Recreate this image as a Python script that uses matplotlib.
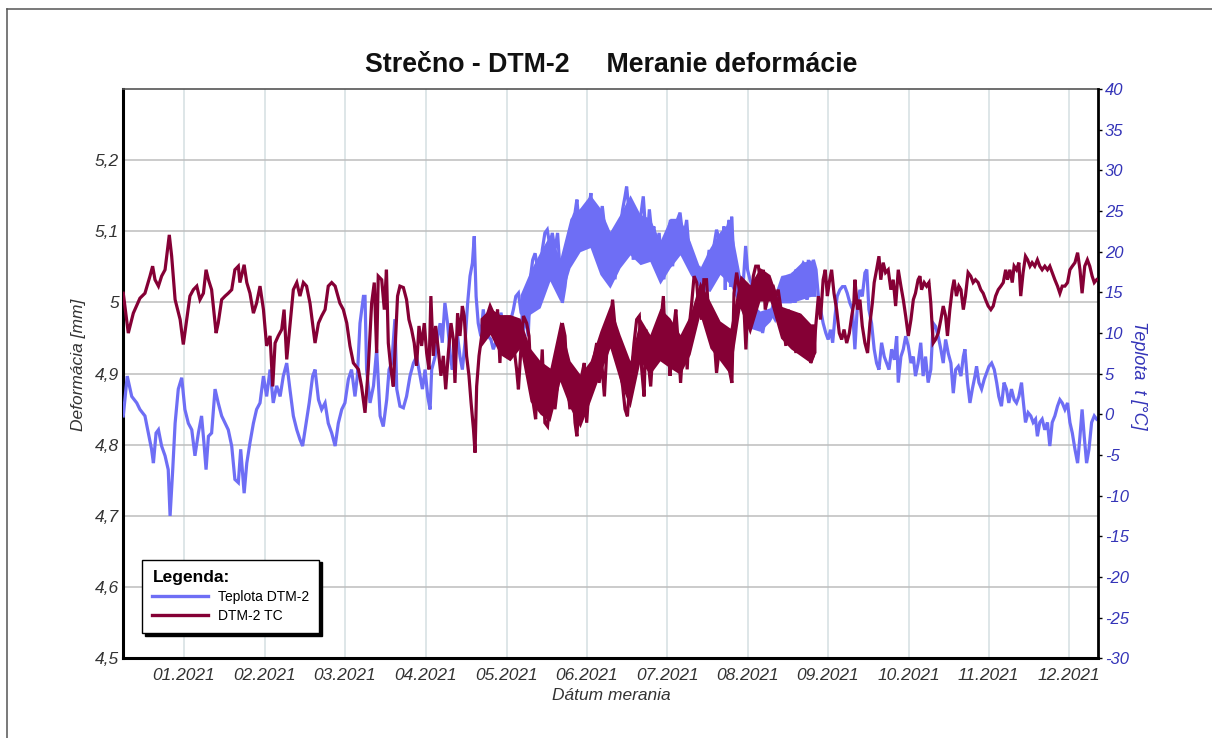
import matplotlib
matplotlib.use("Agg")
import matplotlib.pyplot as plt
from matplotlib.lines import Line2D

plt.rcParams['font.family'] = ['Liberation Sans', 'DejaVu Sans']

# ---------------- data ----------------
# x axis: days counted from the left edge of the plot (about 9 Dec 2020)
month_labels = ['01.2021', '02.2021', '03.2021', '04.2021', '05.2021', '06.2021',
                '07.2021', '08.2021', '09.2021', '10.2021', '11.2021', '12.2021']
month_pos = [22.9, 53.6, 83.9, 114.4, 145.0, 175.4, 205.7, 236.3, 266.5, 297.2, 327.3, 357.5]

# DTM-2 TC  (deformation, mm, left axis)
tc_day = [
    0.1, 2.0, 3.9, 6.4, 8.3, 10.2, 11.2, 12.1, 13.4, 14.6, 15.9, 17.5, 18.4, 19.7, 21.6, 22.8,
    24.1, 25.3, 26.6, 27.9, 29.1, 30.4, 31.4, 32.3, 33.5, 35.2, 36.0, 37.3, 38.6, 39.8, 41.1,
    42.3, 43.6, 44.2, 45.8, 46.8, 48.0, 49.3, 50.5, 51.8, 53.1, 54.3, 55.6, 56.6, 57.5, 58.7,
    60.0, 60.9, 61.9, 63.1, 64.4, 65.7, 66.9, 68.2, 69.4, 70.7, 72.6, 73.9, 75.1, 76.4, 77.6,
    78.9, 80.2, 82.0, 83.3, 84.6, 85.8, 87.1, 89.0, 90.2,
    91.5, 92.7, 94.0, 95.0, 95.9, 96.5, 97.8, 98.8, 99.6, 100.3, 101.3, 102.2, 103.1, 103.8,
    104.7, 106.0, 107.2, 108.1, 109.1, 110.1, 111.0, 111.9, 112.9, 113.9, 114.8, 115.7, 116.4,
    117.3, 118.2, 119.2, 120.2, 121.1, 122.0, 123.0, 124.0, 124.9, 125.5, 126.5, 127.4, 128.3,
    129.0, 129.9, 130.8, 131.6, 132.5, 133.1, 133.7, 134.6, 135.6, 136.6, 137.6, 138.8, 140.0,
    140.9, 141.6, 142.5, 143.2, 144.2, 145.0, 145.9, 146.9, 147.9, 148.8, 149.5, 150.5, 151.4,
    152.6, 153.5, 154.2, 155.1, 156.0, 156.8, 157.7, 158.5, 159.5, 160.5, 161.4, 162.3, 163.3,
    164.3, 165.2, 166.1, 167.1, 168.1, 169.0, 169.9, 170.9, 171.6, 172.4, 173.4, 174.4, 175.3,
    176.2, 177.2, 178.2, 179.1, 180.0, 181.0, 182.0, 182.8, 183.7,
    185.1, 186.0, 186.9, 187.9, 188.9, 189.8, 190.7, 191.4, 192.3, 193.2, 194.2, 195.2, 196.1,
    197.0, 197.7, 198.6, 199.5, 200.5, 201.5, 202.4, 203.3, 204.3, 205.0, 205.8, 206.8, 207.5,
    208.3, 209.0, 209.9, 210.8, 211.6, 212.5, 213.3, 214.1, 215.0, 215.9, 216.9, 217.7, 218.8,
    219.6, 220.6, 221.6, 222.5, 223.4, 224.4, 225.4, 226.3, 227.2, 228.2, 229.2, 230.2, 231.0,
    232.0, 233.0, 233.9, 234.8, 235.5, 236.4, 237.3, 238.3, 239.2, 240.2, 241.1, 242.1, 242.8,
    244.0, 244.8, 245.8, 246.8, 247.7, 248.6, 249.6, 250.6, 251.5, 252.4, 253.4, 254.4, 255.3,
    256.2, 257.2, 258.2, 259.1, 260.0, 261.0, 262.0, 262.9, 263.7, 264.7, 265.5, 266.3, 267.0,
    267.9, 268.8, 269.8, 270.8, 271.7, 272.6, 273.6, 274.6, 275.5, 276.3,
    276.7, 277.7, 278.6, 279.5, 280.5, 281.5, 282.4, 283.3, 284.0, 284.9, 285.8, 286.5, 287.4,
    288.3, 289.3, 290.3, 291.2, 292.1, 293.1, 294.1, 295.0, 295.9, 296.9, 297.9, 298.8, 299.6,
    300.6, 301.3, 301.9, 302.9, 303.8, 304.7, 305.4, 306.3, 307.2, 308.2, 309.2, 310.1, 311.0,
    311.7, 312.6, 313.5, 314.2, 315.1, 316.0, 316.8, 317.7, 318.5, 319.5, 320.5, 321.4, 322.3,
    323.3, 324.3, 325.2, 326.1, 327.1, 328.1, 329.0, 329.9, 330.9, 331.9, 332.8, 333.7, 334.4,
    335.3, 336.2, 336.9, 337.8, 338.7, 339.4, 340.3, 341.2, 342.0, 342.9, 343.7, 344.7, 345.7,
    346.6, 347.5, 348.5, 349.5, 350.4, 351.3, 352.3, 353.3, 354.2, 355.1, 356.1, 357.1, 358.0,
    358.9, 359.9, 360.9, 361.8, 362.6, 363.6, 364.6, 365.5, 366.4, 367.2, 368.1]
tc_val = [
    5.013, 4.957, 4.985, 5.006, 5.013, 5.037, 5.051, 5.032, 5.023, 5.037, 5.046, 5.095, 5.065,
    5.004, 4.976, 4.941, 4.976, 5.009, 5.018, 5.023, 5.004, 5.013, 5.046, 5.032, 5.018, 4.957,
    4.971, 5.004, 5.009, 5.013, 5.018, 5.046, 5.051, 5.028, 5.053, 5.028, 5.013, 4.985, 4.999,
    5.023, 4.990, 4.939, 4.953, 4.882, 4.943, 4.953, 4.962, 4.990, 4.920, 4.967, 5.018, 5.028,
    5.009, 5.028, 5.023, 4.999, 4.943, 4.971, 4.981, 4.990, 5.023, 5.028, 5.023, 4.999, 4.990,
    4.971, 4.939, 4.915, 4.906, 4.882,
    4.845, 4.906, 4.999, 5.028, 4.929, 5.037, 5.032, 4.990, 5.046, 4.943, 4.906, 4.882, 4.953,
    5.009, 5.023, 5.021, 5.004, 4.976, 4.962, 4.943, 4.911, 4.967, 4.939, 4.971, 4.929, 4.906,
    5.009, 4.925, 4.967, 4.934, 4.897, 4.925, 4.878, 4.929, 4.971, 4.948, 4.887, 4.985, 4.953,
    4.995, 4.981, 4.925, 4.897, 4.859, 4.822, 4.789, 4.882, 4.925, 4.953, 4.971, 4.981, 4.995,
    4.985, 4.962, 4.990, 4.915, 4.976, 4.953, 4.981, 4.939, 4.962, 4.934, 4.906, 4.878, 4.939,
    4.981, 4.971, 4.953, 4.897, 4.859, 4.836, 4.906, 4.878, 4.934, 4.831, 4.826, 4.859, 4.906,
    4.850, 4.882, 4.943, 4.971, 4.953, 4.882, 4.850, 4.892, 4.831, 4.812, 4.859, 4.897, 4.915,
    4.831, 4.882, 4.906, 4.925, 4.943, 4.887, 4.915, 4.868, 4.925, 4.953,
    5.004, 4.967, 4.929, 4.906, 4.882, 4.850, 4.840, 4.878, 4.906, 4.943, 4.976, 4.981, 4.906,
    4.868, 4.962, 4.915, 4.882, 4.943, 4.925, 4.943, 4.971, 5.009, 4.943, 4.971, 4.897, 4.925,
    4.967, 4.990, 4.943, 4.887, 4.934, 4.953, 4.906, 4.967, 4.999, 5.037, 5.028, 4.990, 4.976,
    5.032, 5.032, 4.971, 4.990, 4.953, 4.901, 4.934, 4.962, 4.925, 4.943, 4.906, 4.887, 5.013,
    5.042, 5.018, 5.009, 4.990, 4.934, 5.018, 4.990, 5.037, 5.051, 5.051, 5.028, 5.046, 4.990,
    5.009, 5.023, 5.023, 5.009, 5.018, 4.995, 4.971, 4.939, 4.990, 4.957, 4.976, 4.929, 4.985,
    4.934, 4.967, 4.925, 4.967, 4.915, 4.925, 4.971, 5.009, 4.976, 5.032, 5.046, 5.009, 5.028,
    5.046, 5.013, 4.990, 4.957, 4.948, 4.962, 4.943, 4.957, 4.981, 4.999,
    5.032, 4.990, 5.004, 4.967, 4.943, 4.929, 4.971, 4.999, 5.028, 5.046, 5.065, 5.032, 5.056,
    5.042, 5.046, 5.018, 5.032, 4.995, 5.046, 5.023, 5.004, 4.981, 4.953, 4.976, 5.004, 5.013,
    5.032, 5.037, 5.018, 5.028, 5.023, 5.028, 4.999, 4.943, 4.948, 4.957, 4.976, 4.995, 4.981,
    4.953, 4.990, 5.018, 5.032, 5.009, 5.023, 5.018, 4.990, 5.009, 5.042, 5.037, 5.028, 5.032,
    5.028, 5.018, 5.013, 5.004, 4.995, 4.990, 4.995, 5.009, 5.018, 5.023, 5.028, 5.046, 5.032,
    5.046, 5.028, 5.051, 5.046, 5.056, 5.009, 5.042, 5.065, 5.060, 5.051, 5.056, 5.051, 5.060,
    5.051, 5.046, 5.051, 5.046, 5.051, 5.042, 5.032, 5.023, 5.013, 5.023, 5.023, 5.028, 5.046,
    5.051, 5.056, 5.070, 5.046, 5.013, 5.051, 5.060, 5.051, 5.037, 5.028, 5.032]

# DTM-2 TC: daily swing band (upper / lower edge) where the trace is dense
tc_band_day = [135.0, 138.8, 142.5, 146.3, 150.1, 153.9, 157.7, 161.4, 165.2, 169.0, 172.8,
               176.6, 180.3, 184.1, 187.9, 191.7, 195.5, 199.2, 203.0, 206.8, 210.6, 214.4,
               218.1, 221.9, 225.7, 229.5, 233.3, 237.0, 240.8, 244.6, 248.6, 252.4, 256.2,
               260.0, 262.0]
tc_band_hi = [4.978, 4.992, 4.983, 4.983, 4.978, 4.936, 4.918, 4.908, 4.974, 4.918, 4.899,
              4.918, 4.960, 4.997, 4.955, 4.918, 4.978, 4.955, 4.992, 4.978, 4.955, 4.983,
              5.030, 5.002, 4.974, 4.964, 5.039, 5.025, 5.049, 5.039, 4.995, 4.990, 4.985,
              4.970, 4.970]
tc_band_lo = [4.936, 4.955, 4.927, 4.918, 4.936, 4.861, 4.843, 4.833, 4.889, 4.852, 4.824,
              4.861, 4.899, 4.936, 4.889, 4.852, 4.918, 4.899, 4.918, 4.908, 4.899, 4.927,
              4.983, 4.936, 4.918, 4.899, 4.992, 4.955, 5.002, 5.002, 4.950, 4.935, 4.925,
              4.915, 4.930]

# Teplota DTM-2  (temperature, degC, right axis)
temp_day = [
    0.1, 1.6, 3.3, 5.2, 6.4, 8.3, 9.6, 10.8, 11.5, 12.5, 13.4, 14.6, 15.9, 17.1, 17.8, 18.8,
    19.7, 20.9, 22.2, 23.4, 24.7, 26.0, 27.2, 28.5, 29.7, 30.6, 31.4, 32.3, 33.5, 34.8, 36.0,
    37.3, 38.6, 39.8, 41.1, 42.3, 43.6, 44.5, 45.8, 46.8, 48.0, 49.3, 50.5, 51.8, 53.1, 54.3,
    55.6, 56.8, 58.1, 59.4, 60.6, 61.9, 63.1, 64.4, 65.7, 66.9, 67.9, 69.2, 70.4, 71.7, 72.6,
    73.9, 75.1, 76.4, 77.6, 78.9, 80.2, 81.4, 82.7, 83.9, 85.2, 86.4, 87.7, 88.6, 89.6, 90.9,
    91.5, 92.1, 93.4, 94.7, 95.9, 97.2, 98.4, 99.7, 100.6, 101.6, 102.8, 103.5, 104.7, 106.0,
    107.2, 108.5, 109.8, 111.0, 112.3, 113.2, 114.2, 115.2, 116.1, 116.7, 118.0, 119.0, 119.9,
    120.7, 121.7, 122.7, 123.8, 124.5, 125.5, 126.5, 127.4, 128.3, 129.3, 130.3, 131.2, 132.1,
    132.8, 133.5, 134.3, 135.3, 136.2, 137.1, 138.1, 139.1, 140.0, 140.9, 141.9, 142.9, 143.8,
    144.7, 145.7, 146.7, 147.6, 148.5, 149.5, 150.5, 151.4, 152.2, 153.2, 154.1, 154.9, 155.8,
    156.8, 157.7, 158.5, 159.5, 160.4, 161.4, 162.3, 163.3, 164.3, 165.2, 166.1, 167.1, 168.1,
    169.0, 169.9, 170.9, 171.6, 172.4, 173.4, 174.4, 175.3, 176.2, 176.9, 177.7, 178.4, 179.4,
    180.3, 181.2, 182.2, 183.2,
    184.1, 185.1, 186.0, 186.9, 187.9, 188.9, 189.8, 190.4, 191.0, 191.7, 192.3, 192.9, 193.9,
    194.8, 195.7, 196.7, 197.3, 198.0, 199.0, 199.9, 200.7, 201.7, 202.7, 203.6, 204.5, 205.3,
    206.2, 207.0, 207.8, 208.7, 209.6, 210.6, 211.2, 212.1, 213.1, 214.1, 215.0, 215.9, 216.9,
    217.7, 218.8, 219.6, 220.6, 221.6, 222.5, 223.4, 224.4, 225.4, 226.3, 227.2, 227.7, 228.2,
    229.2, 229.7, 230.1, 231.0, 231.7, 232.6, 233.5, 234.5, 235.4, 236.1, 237.0, 238.0, 238.9,
    239.8, 240.8, 241.8, 242.8, 244.0, 245.2, 246.5, 247.7, 248.6, 249.6, 250.6, 251.5, 252.4,
    253.4, 254.0, 254.4, 255.3, 256.2, 257.2, 258.2, 258.6, 259.1, 260.0, 261.0, 262.0, 262.9,
    263.7, 264.7, 265.7, 266.6, 267.5, 268.3, 269.2, 270.0, 271.0, 272.0, 272.9, 273.8, 274.8,
    275.8,
    276.7, 277.7, 278.6, 279.5, 280.5, 281.2, 282.0, 283.0, 284.0, 284.9, 285.8, 286.8, 287.8,
    288.7, 289.6, 290.6, 291.6, 292.5, 293.1, 294.1, 295.0, 295.9, 296.9, 297.9, 298.8, 299.6,
    300.6, 301.6, 302.5, 303.4, 304.4, 305.4, 306.3, 307.2, 308.2, 309.2, 310.1, 311.0, 312.0,
    313.0, 313.9, 314.8, 315.8, 316.8, 317.7, 318.3, 319.3, 320.2, 321.1, 322.1, 322.7, 323.6,
    324.6, 325.6, 326.5, 327.4, 328.4, 329.4, 330.3, 331.1, 332.1, 333.1, 334.0, 334.9, 335.9,
    336.9, 337.8, 338.7, 339.7, 340.3, 341.2, 342.2, 343.2, 344.1, 345.0, 345.7, 346.6, 347.5,
    348.5, 349.5, 350.4, 351.3, 352.3, 353.3, 354.2, 355.1, 356.1, 357.1, 358.0, 358.9, 359.9,
    360.9, 361.8, 362.6, 363.4, 364.3, 365.2, 366.2, 367.2, 368.1]
temp_val = [
    -0.2, 4.7, 2.2, 1.4, 0.6, -0.2, -2.3, -4.3, -6.0, -2.3, -1.9, -3.9, -5.1, -6.8, -12.5, -6.8,
    -1.1, 3.1, 4.5, 0.6, -1.1, -1.9, -5.1, -2.3, -0.2, -3.5, -6.8, -2.7, -2.3, 3.1, 1.4,
    -0.2, -1.1, -1.9, -3.9, -8.0, -8.4, -4.3, -9.7, -6.0, -3.5, -1.1, 0.6, 1.4, 4.7, 2.2,
    5.5, 1.4, 3.5, 2.2, 4.7, 6.3, 3.1, -0.2, -1.9, -3.1, -3.9, -1.1, 1.4, 4.7, 5.5,
    1.8, 0.6, 1.4, -1.1, -2.3, -3.9, -1.1, 0.6, 1.4, 4.3, 5.5, 2.2, 4.7, 11.2, 14.5,
    14.5, 5.5, 1.4, 3.5, 8.0, -0.2, -1.5, 1.8, 5.5, 6.3, 11.7, 3.1, 1.0, 0.8,
    2.2, 4.7, 6.3, 7.1, 4.7, 3.1, 5.5, 2.2, 0.6, 5.5, 7.1, 9.6, 11.2,
    8.8, 13.7, 11.2, 7.1, 5.5, 8.8, 9.6, 7.1, 5.5, 8.8, 13.7, 17.0, 18.6,
    21.9, 14.5, 11.2, 9.6, 12.9, 10.8, 9.6, 9.2, 8.0, 8.8, 10.0, 12.5, 10.8,
    12.1, 8.4, 11.7, 12.9, 14.5, 14.9, 12.5, 12.1, 12.1, 9.6, 17.0, 19.0, 19.8,
    17.8, 15.7, 20.2, 22.3, 22.7, 20.7, 22.3, 20.2, 22.3, 17.8, 13.7, 15.7, 18.6,
    21.9, 23.9, 24.8, 26.4, 23.5, 21.9, 23.9, 21.1, 25.6, 27.2, 22.7, 20.7, 19.8,
    23.9, 25.6, 22.7, 18.6,
    17.8, 21.9, 16.6, 19.8, 22.7, 25.2, 26.8, 28.0, 26.0, 21.9, 23.9, 19.0, 22.7,
    19.8, 24.3, 26.8, 23.9, 20.7, 25.2, 22.3, 23.1, 20.7, 22.3, 18.6, 16.6, 19.8,
    22.7, 23.9, 18.2, 23.1, 23.9, 24.8, 23.1, 21.9, 23.9, 19.8, 19.4, 18.6, 17.4,
    18.2, 17.0, 14.9, 17.8, 20.2, 19.0, 20.7, 22.7, 21.5, 18.6, 23.1, 15.3, 22.3,
    23.9, 15.7, 24.3, 18.6, 16.6, 17.0, 14.9, 16.2, 20.7, 17.8, 16.6, 15.7, 12.1,
    11.2, 12.5, 10.0, 11.7, 12.1, 12.5, 11.7, 12.9, 14.9, 17.0, 15.7, 17.0, 16.2,
    17.4, 13.7, 17.8, 16.6, 17.8, 18.6, 18.2, 14.1, 19.0, 14.5, 19.0, 17.8, 14.5,
    12.9, 11.2, 10.0, 9.2, 10.4, 8.8, 12.1, 14.5, 15.3, 15.7, 15.7, 14.9, 13.7,
    12.9,
    8.0, 13.7, 15.3, 14.5, 17.4, 17.8, 12.9, 11.2, 8.0, 6.3, 5.5, 8.8, 7.1,
    6.3, 5.5, 8.0, 6.7, 9.6, 3.9, 7.1, 8.0, 9.6, 8.4, 6.3, 7.1, 4.7,
    6.3, 8.8, 4.7, 7.1, 3.9, 5.5, 11.2, 10.8, 9.6, 8.0, 6.3, 9.2, 7.5,
    6.3, 2.6, 5.5, 5.9, 4.7, 7.1, 8.0, 3.9, 1.4, 3.1, 4.7, 5.9, 3.9,
    3.1, 4.3, 5.1, 5.9, 6.3, 5.5, 3.9, 2.2, 1.0, 3.9, 3.1, 1.4, 3.1,
    1.8, 1.4, 2.2, 3.9, 1.8, -1.0, 0.2, -0.2, -1.0, -0.6, -2.7, -1.0, -0.6,
    -1.9, -1.0, -3.9, -1.0, -0.2, 1.0, 1.8, 1.4, 0.6, 1.4, -1.0, -2.3, -4.3,
    -6.0, -2.7, 0.6, -2.7, -6.0, -4.3, -1.0, -0.2, -0.6]

# Teplota DTM-2: daily swing band (upper / lower edge) where the trace is dense
temp_band_day = [150.1, 153.9, 157.7, 161.4, 165.2, 169.0, 172.8, 176.6, 180.3, 184.1, 187.9,
                 191.7, 195.5, 199.2, 203.0, 206.8, 210.6, 214.4, 218.1, 221.9, 225.7, 229.5,
                 233.3, 237.0, 240.8, 244.6, 248.6, 252.4, 256.2, 260.0, 262.0]
temp_band_hi = [14.7, 17.6, 20.0, 22.1, 19.2, 24.1, 25.4, 27.0, 25.4, 22.5, 24.6,
                27.0, 24.6, 24.1, 21.3, 24.1, 24.1, 21.3, 18.0, 20.5, 22.5, 23.7,
                17.2, 13.9, 12.7, 13.1, 17.0, 17.4, 18.6, 19.0, 17.8]
temp_band_lo = [9.0, 12.3, 13.1, 16.4, 13.9, 18.0, 20.0, 20.5, 17.2, 15.5, 18.0,
                19.6, 18.4, 18.8, 16.0, 18.0, 19.6, 17.2, 15.5, 15.1, 17.2, 16.0,
                13.1, 10.6, 10.2, 11.4, 13.7, 13.7, 14.1, 14.5, 14.5]

left_ticks = [4.5, 4.6, 4.7, 4.8, 4.9, 5.0, 5.1, 5.2]
left_labels = ['4,5', '4,6', '4,7', '4,8', '4,9', '5', '5,1', '5,2']
right_ticks = list(range(-30, 45, 5))

# ---------------- style ----------------
BLUE = '#6e6ef5'
MAROON = '#850035'
AXBLUE = '#3434b8'
TXT = '#333333'

fig = plt.figure(figsize=(12.12, 7.38), dpi=100)
fig.patch.set_facecolor('white')

pos = [123 / 1212, 1 - 658.3 / 738, (1097.7 - 123) / 1212, (658.3 - 89) / 738]

ax = fig.add_axes(pos)
ax.set_zorder(1)
ax.set_xlim(0, 368.5)
ax.set_ylim(4.5, 5.3)
ax.set_yticks(left_ticks)
ax.set_yticklabels(left_labels)
ax.set_xticks(month_pos)
ax.set_xticklabels(month_labels)
ax.tick_params(axis='both', length=0, labelsize=12.5, labelcolor=TXT)
ax.tick_params(axis='y', pad=3)
ax.tick_params(axis='x', pad=7)
for lab in ax.get_xticklabels() + ax.get_yticklabels():
    lab.set_fontstyle('italic')
ax.grid(axis='y', color='#bdbdbd', lw=1.1)
ax.grid(axis='x', color='#d5dfe2', lw=1.1)
ax.set_axisbelow(True)
ax.spines['left'].set_linewidth(2.2)
ax.spines['bottom'].set_linewidth(2.2)
ax.spines['left'].set_color('black')
ax.spines['bottom'].set_color('black')
ax.spines['top'].set_linewidth(1.2)
ax.spines['top'].set_color('#555555')
ax.spines['right'].set_visible(False)

axt = ax.twinx()
axt.set_zorder(2)
axt.patch.set_visible(False)
axt.set_ylim(-30, 40)
axt.set_yticks(right_ticks)
axt.set_yticklabels([str(v) for v in right_ticks])
axt.tick_params(axis='y', length=3, width=1, color='black', labelsize=12,
                labelcolor=AXBLUE, pad=2)
for lab in axt.get_yticklabels():
    lab.set_fontstyle('italic')
for s in ['left', 'top', 'bottom']:
    axt.spines[s].set_visible(False)
axt.spines['right'].set_linewidth(2.0)
axt.spines['right'].set_color('black')
axt.fill_between(temp_band_day, temp_band_lo, temp_band_hi, color=BLUE, lw=0)
lt, = axt.plot(temp_day, temp_val, color=BLUE, lw=2.3, solid_joinstyle='miter')

axm = fig.add_axes(pos, sharex=ax, sharey=ax)
axm.set_zorder(3)
axm.patch.set_visible(False)
axm.axis('off')
axm.fill_between(tc_band_day, tc_band_lo, tc_band_hi, color=MAROON, lw=0)
lm, = axm.plot(tc_day, tc_val, color=MAROON, lw=2.3, solid_joinstyle='miter')

leg = axm.legend([lt, lm], ['Teplota DTM-2', 'DTM-2 TC'], title='Legenda:',
                 loc='lower left', bbox_to_anchor=(0.0195, 0.044), borderaxespad=0,
                 fontsize=10, title_fontproperties={'weight': 'bold', 'size': 12.5},
                 alignment='left', handlelength=4.0, handletextpad=0.7,
                 labelspacing=0.35, borderpad=0.75, fancybox=False, framealpha=1,
                 edgecolor='black', shadow={'color': 'black', 'alpha': 1})
leg.get_frame().set_linewidth(1.0)
for h in leg.legend_handles:
    h.set_linewidth(2.4)

# labels and title
fig.text(611 / 1212, 1 - 71.7 / 738, 'Strečno - DTM-2     Meranie deformácie',
         ha='center', va='baseline', fontsize=19.3, fontweight='bold', color='#111111')
fig.text(79 / 1212, 1 - 365 / 738, 'Deformácia [mm]', rotation=90, ha='center', va='center',
         fontsize=12.5, fontstyle='italic', color=TXT)
fig.text(611 / 1212, 1 - 695 / 738, 'Dátum merania', ha='center', va='center',
         fontsize=12.5, fontstyle='italic', color=TXT)
fig.text(1138 / 1212, 1 - 375 / 738, 'Teplota  t [°C]', rotation=270, ha='center', va='center',
         fontsize=13, fontstyle='italic', color=AXBLUE)

# outer frame (left and top edges visible)
fig.add_artist(Line2D([6.5 / 1212, 6.5 / 1212], [0, 1 - 9.3 / 738], transform=fig.transFigure,
                      color='#555555', lw=1.1))
fig.add_artist(Line2D([6.5 / 1212, 1], [1 - 9.3 / 738, 1 - 9.3 / 738], transform=fig.transFigure,
                      color='#555555', lw=1.1))

fig.savefig('out.png', dpi=100)
